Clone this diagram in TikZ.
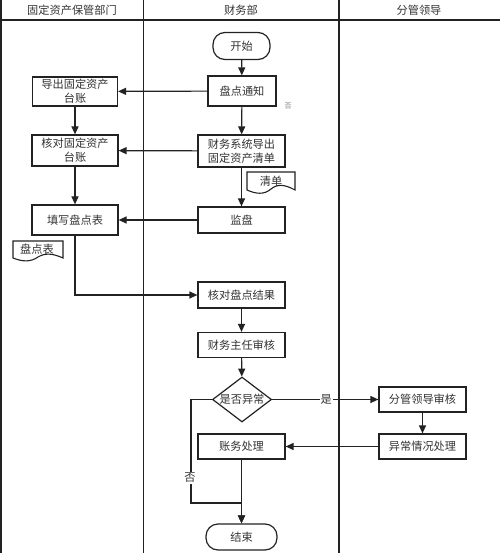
\documentclass[tikz,border=0pt]{standalone}
\usepackage{fontspec}
\setmainfont{Noto Sans CJK SC}
\usetikzlibrary{arrows.meta,shapes.geometric}
\definecolor{ink}{HTML}{222222}
\definecolor{txt}{HTML}{333333}
\tikzset{
  base/.style={font=\fontsize{11.2}{14}\selectfont, text=txt, align=center, inner sep=0pt},
  proc/.style={base, draw=ink, line width=1.2pt, fill=white, minimum width=87pt, minimum height=26pt},
  term/.style={base, draw=ink, line width=1.2pt, fill=white, rounded corners=12pt, minimum height=27pt},
  dec/.style={base, draw=ink, line width=1.2pt, fill=white, diamond, aspect=1.3, minimum width=59pt, minimum height=45pt},
  lane/.style={draw=ink, line width=1.1pt},
  arr/.style={draw=ink, line width=1.2pt, -{Triangle[length=8pt,width=7pt]}},
  lbl/.style={base, fill=white, inner sep=1pt},
  docshape/.style={draw=ink, line width=1.1pt, fill=white}
}
\begin{document}
\begin{tikzpicture}[x=1pt,y=-1pt]
\useasboundingbox (0,0) rectangle (500,553);
% lanes
\draw[lane] (1,0) -- (1,553);
\draw[lane] (143.5,0) -- (143.5,553);
\draw[lane] (339,0) -- (339,553);
\draw[lane] (0,20) -- (500,20);
\node[base] (h1) at (72,10) {固定资产保管部门};
\node[base] (h2) at (241,10) {财务部};
\node[base] (h3) at (419,10) {分管领导};

% nodes
\node[term, minimum width=57pt] (start) at (241.5,46) {开始};
\node[proc, minimum width=68pt, minimum height=30pt] (notify) at (242,91) {盘点通知};
\node[base, font=\fontsize{7}{8}\selectfont, text=gray] (no1) at (288,106) {否};
\node[proc, minimum width=85pt, minimum height=29pt] (export) at (75,91.5) {导出固定资产\\台账};
\node[proc, minimum width=86pt, minimum height=31pt] (check) at (75,150.5) {核对固定资产\\台账};
\node[proc, minimum height=32pt] (sys) at (241.5,151) {财务系统导出\\固定资产清单};
\node[proc] (monitor) at (241.5,220) {监盘};
\node[proc, minimum width=86pt, minimum height=30pt] (fill) at (75,220) {填写盘点表};
\node[proc] (result) at (241.5,295) {核对盘点结果};
\node[proc, minimum height=25pt] (director) at (241.5,345) {财务主任审核};
\node[dec] (dia) at (242,399.5) {是否异常};
\node[proc, minimum height=25pt] (leader) at (422.5,399.5) {分管领导审核};
\node[proc, minimum height=25pt] (abn) at (422.5,446.5) {异常情况处理};
\node[proc, minimum height=25pt] (acc) at (241.5,446.5) {账务处理};
\node[term, minimum width=71pt, minimum height=26pt] (end) at (241.5,537) {结束};

% document shapes
\draw[docshape] (247,172) -- (295,172) -- (295,190)
  .. controls (284,184) and (277,184) .. (271,189)
  .. controls (264,195) and (256,194) .. (247,190) -- cycle;
\node[base] (doc1) at (271,181) {清单};
\draw[docshape] (13,241) -- (63,241) -- (63,258)
  .. controls (52,253) and (45,253) .. (38,257)
  .. controls (31,262) and (23,262) .. (13,258) -- cycle;
\node[base] (doc2) at (37,249.5) {盘点表};

% connectors
\draw[arr] (start) -- (notify);
\draw[arr] (notify) -- (sys);
\draw[arr] (sys) -- (monitor);
\draw[arr] (notify) -- (export);
\draw[arr] (sys) -- (check);
\draw[arr] (monitor) -- (fill);
\draw[arr] (export) -- (check);
\draw[arr] (check) -- (fill);
\draw[arr] (fill.south) |- (result.west);
\draw[arr] (result) -- (director);
\draw[arr] (director) -- (dia);
\draw[arr] (dia.east) -- node[lbl, pos=0.51] (yes) {是} (leader.west);
\draw[arr] (leader) -- (abn);
\draw[arr] (abn) -- (acc);
\draw[arr] (acc) -- (end);
\coordinate (n1) at (191,503);
\draw[arr] (dia.west) -| (n1) -| (end.north);
\node[lbl] (nolbl) at (190,478) {否};
\end{tikzpicture}
\end{document}
